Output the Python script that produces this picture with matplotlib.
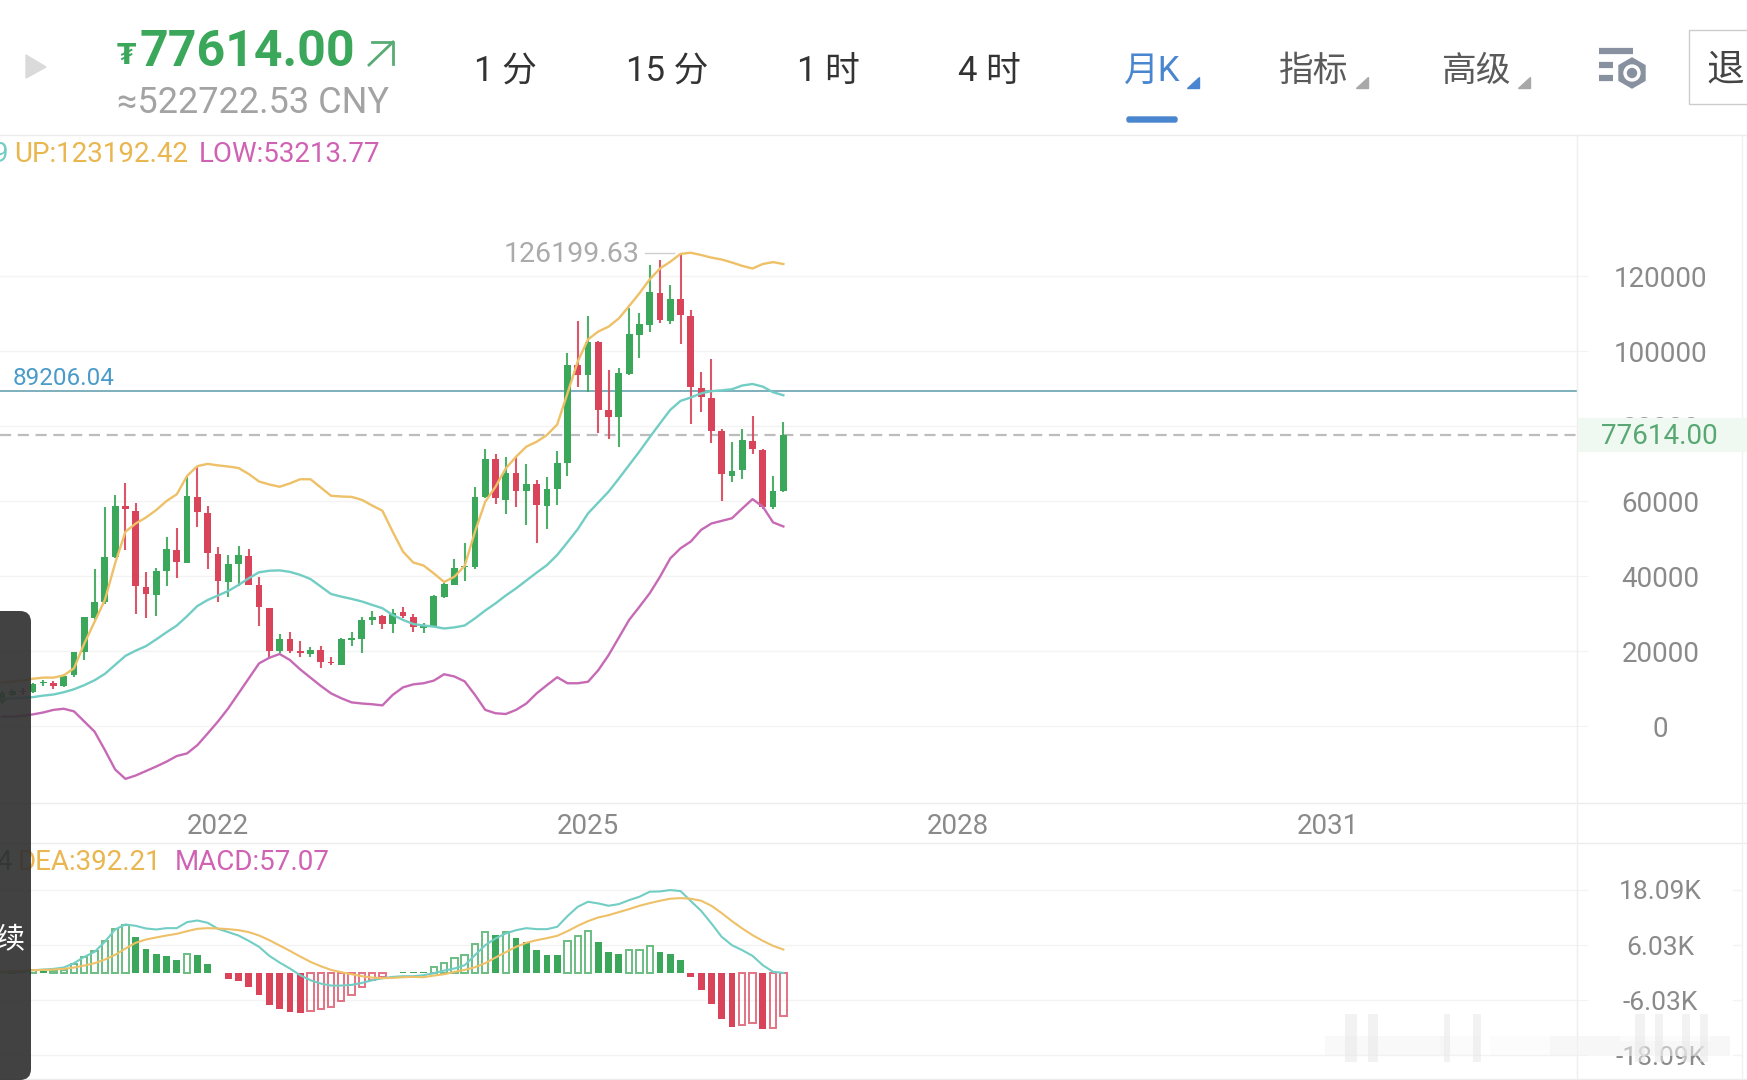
import numpy as np
import matplotlib
matplotlib.use("Agg")
import matplotlib.pyplot as plt
from matplotlib.patches import Rectangle, Polygon, FancyBboxPatch, RegularPolygon, Circle

plt.rcParams['font.family'] = ['Roboto', 'Noto Sans CJK SC', 'DejaVu Sans']

# months counted from 2022-01
months = list(range(-21, 56))

opens = [6500, 8400, 9300, 9100, 11500, 11600, 10700, 13500, 19800, 28700, 33200, 45000, 58700, 57400, 37000, 34900,
         41300, 46900, 43600, 61200, 56800, 46000, 38400, 43100, 45300, 37500, 31600, 19900, 23100, 20100, 19100, 20300,
         17100, 16400, 22900, 23200, 28300, 29300, 27200, 30400, 29200, 26100, 26800, 34500, 37600, 42300, 42300, 61000,
         71100, 60400, 67400, 62700, 64500, 58800, 63200, 70200, 96200, 93500, 102300, 84200, 82500, 93900, 104400, 107000,
         115600, 108100, 113900, 109300, 90100, 87500, 78600, 66800, 68300, 76100, 73600, 58500, 62800]
highs = [9400, 9800, 10100, 11400, 12300, 12100, 13900, 19700, 29200, 41900, 58300, 61700, 64700, 59400, 41200, 42200,
         50300, 52700, 66700, 69200, 58800, 47800, 45700, 48000, 47200, 39800, 31600, 24500, 25100, 22600, 21000, 21300,
         18300, 23600, 25000, 29200, 30800, 29700, 31100, 31800, 30000, 27600, 34900, 38200, 44500, 48900, 63800, 73800,
         72500, 71800, 71800, 70000, 65600, 66300, 73400, 99600, 108100, 109300, 102700, 94900, 95400, 111600, 110200, 123000,
         124300, 117700, 126199.63, 110900, 94400, 97800, 79100, 75700, 79300, 82700, 73800, 66800, 81200]
lows = [6000, 8000, 8300, 8900, 10700, 10000, 10500, 13200, 17600, 28300, 32500, 44800, 46900, 30000, 28900, 29300,
        37300, 39600, 43400, 53200, 42000, 33000, 34500, 37300, 37600, 26700, 17800, 19600, 19600, 18300, 18300, 15600,
        16400, 16400, 21300, 19600, 26900, 25800, 24900, 28800, 25200, 24900, 26700, 34100, 37500, 38600, 42000, 60800,
        59200, 56500, 58300, 53500, 48900, 52600, 58900, 66800, 90500, 89200, 78200, 76600, 74500, 93500, 98100, 105100,
        107400, 107200, 101900, 80500, 83800, 75600, 59900, 65000, 65800, 72500, 58000, 57800, 62400]
closes = [8900, 9400, 9000, 11200, 11700, 10800, 13300, 19700, 29000, 33200, 45200, 58700, 57800, 37300, 35100, 41400,
          47100, 43800, 61300, 57100, 46200, 38600, 43200, 45500, 37700, 31800, 20100, 23300, 20100, 19400, 20400, 17200,
          16700, 23100, 23500, 28400, 29200, 27200, 30200, 29300, 26500, 26800, 34800, 37800, 42200, 42700, 61200, 71300,
          60700, 67600, 62800, 64500, 58900, 63300, 70200, 96400, 93700, 102500, 84300, 82500, 94200, 104500, 107100, 115700,
          108300, 114000, 109600, 90500, 87800, 78800, 67100, 68100, 76300, 73800, 58500, 62800, 77614]

boll_up = [11600, 11800, 12100, 12600, 12900, 12900, 13500, 15400, 22000, 27800, 33600, 43400, 51800, 54000, 55600, 57600,
           60000, 61800, 66700, 69300, 69900, 69500, 69200, 68800, 67200, 65200, 64400, 63800, 64700, 65800, 65800, 63600,
           61400, 61200, 61100, 60300, 58800, 57400, 51800, 46500, 43600, 42800, 40700, 38400, 39800, 42700, 51800, 59800,
           63800, 68700, 71800, 74500, 75800, 77600, 80400, 88700, 97200, 103100, 105200, 106500, 108700, 112000, 115400, 119100,
           122000, 123800, 125900, 126200, 125600, 124900, 124400, 123600, 122700, 122000, 123200, 123700, 123192.42]
boll_mid = [7200, 7400, 7500, 7700, 8100, 8400, 9000, 9800, 10900, 12200, 13900, 16300, 18700, 20100, 21300, 23100,
            25000, 26800, 29300, 32000, 33600, 34800, 36000, 37600, 39400, 41000, 41400, 41500, 41100, 40300, 39200, 37200,
            35200, 34500, 33900, 33200, 32300, 31400, 29600, 28300, 27200, 26800, 26500, 26000, 26300, 26800, 28700, 30800,
            32700, 34800, 36700, 38800, 40900, 42900, 45600, 49000, 52500, 56700, 59600, 62500, 66000, 69600, 73200, 77000,
            80700, 84300, 86700, 87600, 88700, 89300, 89500, 89800, 90800, 91200, 90500, 89000, 88200]
boll_low = [2500, 2500, 2700, 3100, 3600, 4300, 4600, 3900, 1200, -1500, -6400, -11600, -14100, -13200, -12000, -10800,
            -9500, -8000, -7300, -5100, -2000, 1200, 4700, 8700, 12700, 16700, 18200, 19200, 17600, 15100, 12900, 10700,
            8700, 7400, 6300, 6000, 5800, 5500, 8300, 10300, 11100, 11400, 12100, 13800, 13200, 11900, 8300, 4300,
            3400, 3200, 4300, 6000, 8700, 10900, 13000, 11400, 11400, 11800, 14900, 18900, 23600, 28300, 31800, 35400,
            39800, 44700, 47400, 49200, 52300, 54000, 54700, 55400, 58000, 60500, 58500, 54300, 53213.77]

hist = [150, 370, 290, 510, 370, 370, 660, 1830, 3440, 4750, 6870, 9500, 10380, 7680, 5190, 4020,
        3660, 2700, 4090, 3870, 1970, -150, -1320, -1750, -3140, -4820, -7160, -8040, -8700, -8770, -8330, -8040,
        -7530, -6140, -4820, -3140, -1540, -950, -70, 70, 70, 150, 1170, 2190, 3290, 3800, 6360, 8850,
        8330, 8770, 7600, 6580, 4900, 3950, 3870, 6940, 7970, 9060, 6650, 4460, 4020, 4900, 5040, 5770,
        4530, 4090, 2700, -950, -3870, -6870, -10230, -11840, -11400, -11040, -12430, -12130, -9500]
hist_hollow = [0, 1, 0, 1, 0, 1, 1, 1, 1, 1, 1, 1, 1, 0, 0, 0,
               0, 0, 1, 0, 0, 0, 0, 0, 0, 0, 0, 0, 0, 0, 1, 1,
               1, 1, 1, 1, 1, 1, 0, 0, 0, 0, 1, 1, 1, 1, 1, 1,
               0, 1, 0, 0, 0, 0, 0, 1, 1, 1, 0, 0, 0, 1, 1, 1,
               0, 0, 0, 0, 0, 0, 0, 0, 1, 1, 0, 1, 1]
dif = [70, 150, 290, 510, 660, 800, 1100, 2050, 3440, 4530, 6730, 9430, 10530, 10230, 9650, 9430,
       9720, 9720, 11040, 11400, 10890, 9580, 8850, 8110, 6940, 5630, 3660, 2190, 880, -580, -1680, -2410,
       -2850, -2850, -2700, -2270, -1680, -1240, -950, -800, -800, -580, -150, 440, 880, 1610, 3800, 5990,
       7460, 8550, 9280, 9720, 9500, 9500, 10010, 12350, 14400, 15500, 15130, 14620, 14990, 15860, 16590, 17690,
       17760, 18060, 17840, 15640, 13520, 10750, 7820, 5990, 4900, 3660, 1610, 150, -70]
dea = [220, 290, 370, 510, 580, 660, 800, 1100, 1540, 2050, 2850, 3870, 5260, 6510, 7240, 7680,
       8110, 8480, 9060, 9580, 9720, 9650, 9500, 9280, 8850, 8110, 7090, 5920, 4750, 3510, 2340, 1390,
       580, 70, -370, -800, -1100, -1240, -1170, -1020, -950, -1020, -660, -370, 150, 580, 1170, 2050,
       3290, 4460, 5630, 6510, 7090, 7530, 8040, 9060, 10230, 11260, 12060, 12570, 13230, 13890, 14620, 15200,
       15720, 16160, 16300, 16160, 15720, 14620, 13010, 11260, 9650, 8190, 6940, 5850, 5040]

year_ticks = [0, 36, 72, 108]
year_labels = ['2022', '2025', '2028', '2031']
price_ticks = [0, 20000, 40000, 60000, 80000, 100000, 120000]
macd_ticks = [-18090, -6030, 6030, 18090]
macd_labels = ['-18.09K', '-6.03K', '6.03K', '18.09K']
last_price = 77614.00
ref_price = 89206.04
tabs = [('1 分', 505), ('15 分', 667), ('1 时', 828), ('4 时', 989)]

GREEN = '#3ba75a'
RED = '#d9445a'
YELLOW = '#eec067'
TEAL = '#72cdc4'
PINK = '#c76ab6'
GRID = '#f3f3f3'
LABEL = '#8a8a8a'

W, H = 1747, 1080
XMIN, XMAX = -21.2, 132.2


def panel(top, bottom):
    return fig.add_axes([0, 1 - bottom / H, 1577 / W, (bottom - top) / H])


fig = plt.figure(figsize=(W / 100, H / 100), dpi=100, facecolor='white')
ax = panel(135, 803)
ax2 = panel(843, 1079)

# price panel
ax.set_xlim(XMIN, XMAX)
ax.set_ylim(-20533, 157600)
m = np.array(months)
o, c = np.array(opens), np.array(closes)
cols = [GREEN if a >= b else RED for a, b in zip(closes, opens)]
ax.vlines(m, lows, highs, colors=cols, lw=1.5, alpha=0.9, zorder=3)
ax.bar(m, np.abs(c - o), bottom=np.minimum(o, c), width=0.66, color=cols, zorder=3)
ax.plot(m, boll_up, color=YELLOW, lw=1.7, zorder=4)
ax.plot(m, boll_mid, color=TEAL, lw=1.7, zorder=4)
ax.plot(m, boll_low, color=PINK, lw=1.7, zorder=4)
ax.axhline(ref_price, color='#5b9aa8', lw=1.1, zorder=2)
ax.axhline(last_price, color='#bdbdbd', lw=1.6, ls=(0, (5, 3)), zorder=2)
ax.text(XMIN + 1.2, ref_price + 500, '89206.04', color='#4b9bc9', fontsize=17.5, va='bottom')

hi = int(np.argmax(highs))
ax.plot([months[hi] - 3.5, months[hi] - 0.6], [highs[hi], highs[hi]], color='#cfcfcf', lw=1)
ax.text(months[hi] - 4, highs[hi] - 500, '126199.63', color='#ababab', fontsize=20.5, ha='right', va='center')

ax.set_yticks(price_ticks)
ax.set_xticks(year_ticks, year_labels)
ax.grid(axis='y', color=GRID, lw=1)
ax.set_axisbelow(True)
ax.yaxis.tick_right()
ax.tick_params(axis='y', length=8, color=GRID, labelcolor=LABEL, labelsize=20, pad=52)
ax.tick_params(axis='x', length=0, labelcolor=LABEL, labelsize=20, pad=7)
for lbl in ax.get_yticklabels():
    lbl.set_ha('center')

# macd panel
ax2.set_xlim(XMIN, XMAX)
ax2.set_ylim(-23300, 28360)
for x, v, h in zip(months, hist, hist_hollow):
    col = GREEN if v >= 0 else RED
    if h:
        ax2.bar(x, v, width=0.62, facecolor='none', edgecolor=col, lw=1.4, alpha=0.75, zorder=3)
    else:
        ax2.bar(x, v, width=0.66, color=col, zorder=3)
ax2.plot(m, dif, color=TEAL, lw=1.5, zorder=4)
ax2.plot(m, dea, color=YELLOW, lw=1.5, zorder=4)
ax2.set_yticks(macd_ticks, macd_labels)
ax2.set_xticks([])
ax2.grid(axis='y', color=GRID, lw=1)
ax2.set_axisbelow(True)
ax2.yaxis.tick_right()
ax2.tick_params(axis='y', length=8, color=GRID, labelcolor=LABEL, labelsize=19, pad=52)
for lbl in ax2.get_yticklabels():
    lbl.set_ha('center')

for a in (ax, ax2):
    for s in a.spines.values():
        s.set_visible(False)

# page furniture, in pixels
ui = fig.add_axes([0, 0, 1, 1], facecolor='none')
ui.set_xlim(0, W)
ui.set_ylim(H, 0)
ui.axis('off')

for y in (135, 803, 843, 1079):
    ui.plot([0, W], [y, y], color='#ececec', lw=1)
ui.plot([1577, 1577], [135, 1079], color='#eeeeee', lw=1)
ui.plot([1742, 1742], [135, 1079], color='#f1f1f1', lw=1)
for y in (890, 945, 1000, 1055):
    ui.plot([1733, 1742], [y, y], color=GRID, lw=1)

# last price tag
ui.add_patch(Rectangle((1578, 418), 169, 33, color='#f0f8f2', zorder=5))
ui.text(1659, 437, '77614.00', color='#58a873', fontsize=20, ha='center', va='center', zorder=6)

# header
ui.add_patch(Polygon([(26, 55), (46, 67), (26, 78)], color='#dadada'))
ui.text(117, 56, '₮', color=GREEN, fontsize=20, fontweight='bold', family=['DejaVu Sans'], va='center')
ui.text(140, 52, '77614.00', color=GREEN, fontsize=36, fontweight='bold', va='center')
ui.plot([369, 393], [65, 42], color='#58ab74', lw=2)
ui.plot([372, 393, 393], [42, 42, 64], color='#58ab74', lw=2)
ui.text(117, 103, '≈522722.53 CNY', color='#a3a3a3', fontsize=26, va='center')

for s, x in tabs:
    ui.text(x, 71, s, color='#333333', fontsize=25, ha='center', va='center')
ui.text(1152, 71, '月K', color='#4a86d0', fontsize=25, ha='center', va='center')
ui.text(1314, 71, '指标', color='#5a5a5a', fontsize=25, ha='center', va='center')
ui.text(1477, 71, '高级', color='#5a5a5a', fontsize=25, ha='center', va='center')
for x, col in ((1199, '#4a86d0'), (1368, '#a8a8a8'), (1530, '#a8a8a8')):
    ui.add_patch(Polygon([(x, 77), (x, 88), (x - 12, 88)], color=col))
ui.add_patch(FancyBboxPatch((1127, 117), 50, 5, boxstyle='round,pad=0,rounding_size=2', color='#4a86d0'))

# settings icon
for y, x2 in ((51, 1633), (65, 1613), (78, 1613)):
    ui.plot([1599, x2], [y, y], color='#8891a0', lw=4.5, solid_capstyle='butt')
ui.add_patch(RegularPolygon((1632, 73), 6, radius=15, color='#8891a0'))
ui.add_patch(Circle((1632, 73), 8, color='white'))
ui.add_patch(Circle((1632, 73), 4.5, color='#8891a0'))

ui.add_patch(Rectangle((1689, 30), 80, 74, facecolor='white', edgecolor='#cccccc', lw=1, clip_on=True))
ui.text(1725, 70, '退', color='#444444', fontsize=27, ha='center', va='center')

# indicator legends
ui.text(-7, 154, '9', color=TEAL, fontsize=20, va='center')
ui.text(14, 154, 'UP:123192.42', color='#e9b64f', fontsize=20, va='center')
ui.text(199, 154, 'LOW:53213.77', color='#d062b4', fontsize=20, va='center')
ui.text(-4, 863, '4', color='#3d6b5a', fontsize=20, va='center')
ui.text(18, 863, 'DEA:392.21', color='#e9b64f', fontsize=20, va='center')
ui.text(175, 863, 'MACD:57.07', color='#d062b4', fontsize=20, va='center')

# dark toast over the left edge
ui.add_patch(FancyBboxPatch((-40, 611), 71, 469, boxstyle='round,pad=0,rounding_size=11',
                            facecolor='#333333', edgecolor='none', alpha=0.93, zorder=7))
ui.text(10, 939, '续', color='white', fontsize=21, ha='center', va='center', zorder=8)

# blurred watermark, lower right
for x, w, a in ((1325, 120, 0.45), (1440, 40, 0.3), (1490, 60, 0.2), (1550, 180, 0.55)):
    ui.add_patch(Rectangle((x, 1036), w, 20, facecolor='#f2f2f2', edgecolor='none', alpha=a, zorder=6))
ui.add_patch(Rectangle((1620, 1015), 90, 26, facecolor='white', edgecolor='none', alpha=0.6, zorder=6))
for x, w in ((1345, 12), (1368, 10), (1444, 6), (1473, 8), (1635, 10), (1655, 8), (1682, 8), (1700, 8)):
    ui.add_patch(Rectangle((x, 1014), w, 48, facecolor='#e8e8e8', edgecolor='none', alpha=0.55, zorder=6))

fig.savefig('out.png', dpi=100)
